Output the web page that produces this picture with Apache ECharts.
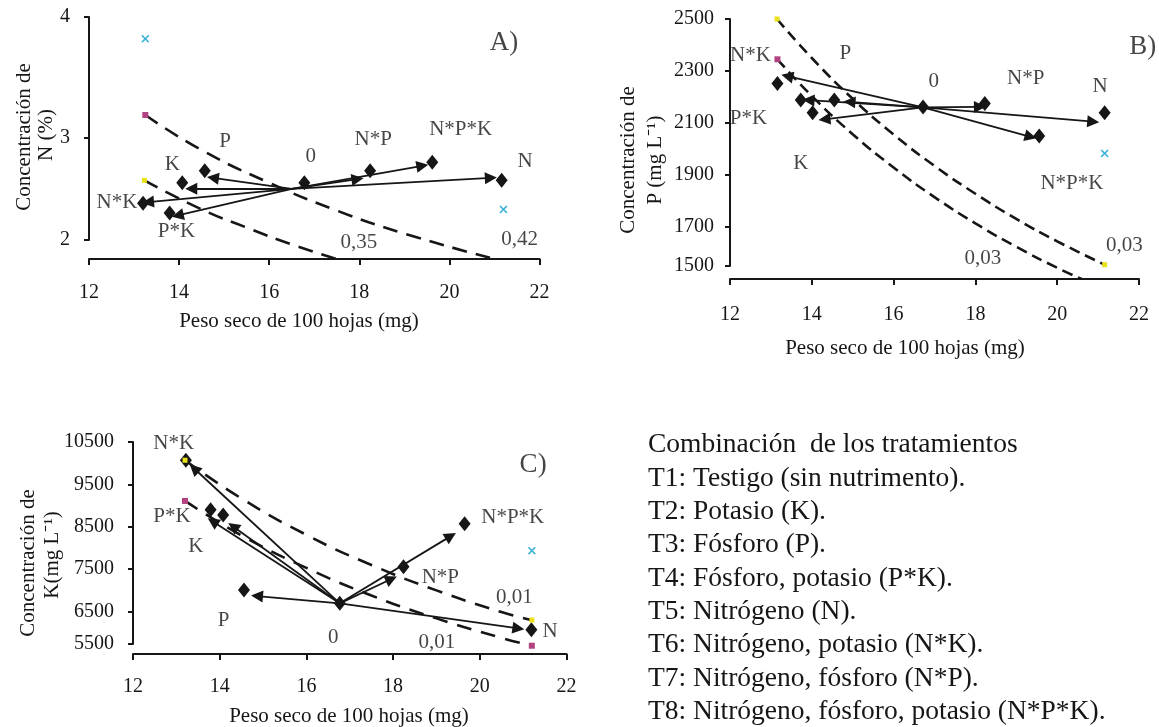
<!DOCTYPE html>
<html><head><meta charset="utf-8">
<script src="https://cdn.jsdelivr.net/npm/echarts@6/dist/echarts.min.js"></script>
<style>html,body{margin:0;padding:0;background:#fff}#c{width:1159px;height:727px}</style>
</head><body><div id="c"></div>
<script>
// ---------------- DATA ----------------
// treatment order used in every panel
const treatments = ['N*K', 'P*K', 'K', 'P', '0', 'N*P', 'N*P*K', 'N'];
const arrowTreatments = ['N*K', 'P*K', 'K', 'P', 'N*P', 'N*P*K', 'N'];
const xTicks = [12, 14, 16, 18, 20, 22];

// Panel A: N (%)
const yTicksA = [2, 3, 4];
const pesoA = [13.20, 13.79, 14.07, 14.57, 16.78, 18.24, 19.62, 21.16];
const concA = [2.46, 2.38, 2.63, 2.73, 2.63, 2.73, 2.80, 2.65];
const originA = [16.50, 2.58];
const tipXA = [13.31, 13.97, 14.27, 14.75, 17.96, 19.40, 20.92];
const tipYA = [2.47, 2.36, 2.58, 2.67, 2.66, 2.77, 2.67];
const iso1XA = [13.25, 14.5, 16.0, 17.5, 19.0, 21.0];
const iso1YA = [3.19, 2.90, 2.63, 2.40, 2.21, 2.00];
const iso2XA = [13.23, 14.5, 15.5, 16.5, 17.5];
const iso2YA = [2.65, 2.41, 2.26, 2.12, 2.00];
const magentaA = [[13.25, 3.19]];
const yellowA = [[13.23, 2.65]];
const cyanA = [[13.25, 3.82], [21.20, 2.41]];
const labelTextA = ['P', 'K', '0', 'N*P', 'N*P*K', 'N', 'N*K', 'P*K', '0,35', '0,42'];
const labelXA = [15.02, 13.85, 16.92, 18.31, 20.25, 21.68, 12.62, 13.94, 17.99, 21.56];
const labelYA = [2.97, 2.78, 2.85, 2.99, 3.07, 2.81, 2.47, 2.23, 2.14, 2.16];
const panelTagA = ['A)', 21.21, 3.79];

// Panel B: P (mg L-1)
const yTicksB = [1500, 1700, 1900, 2100, 2300, 2500];
const pesoB = [13.16, 13.73, 14.02, 14.55, 16.72, 18.23, 19.56, 21.16];
const concB = [2252, 2188, 2139, 2188, 2162, 2175, 2050, 2139];
const originB = [16.72, 2160];
const tipXB = [13.40, 13.92, 14.31, 14.92, 18.11, 19.35, 20.88];
const tipYB = [2280, 2188, 2114, 2181, 2162, 2047, 2105];
const iso1XB = [13.15, 14, 15, 16, 17, 18, 19, 20, 21.16];
const iso1YB = [2500, 2350, 2193, 2056, 1935, 1828, 1731, 1645, 1555];
const iso2XB = [13.16, 14, 15, 16, 17, 18, 19, 20, 20.6];
const iso2YB = [2345, 2204, 2057, 1929, 1815, 1714, 1624, 1543, 1500];
const magentaB = [[13.16, 2345]];
const yellowB = [[13.15, 2500], [21.16, 1555]];
const cyanB = [[21.16, 1983]];
const labelTextB = ['N*K', 'P', '0', 'N*P', 'N', 'P*K', 'K', 'N*P*K', '0,03', '0,03'];
const labelXB = [12.50, 14.82, 16.98, 19.23, 21.05, 12.45, 13.73, 20.36, 18.18, 21.64];
const labelYB = [2361, 2368, 2259, 2271, 2242, 2117, 1944, 1867, 1578, 1629];
const panelTagB = ['B)', 22.09, 2393];

// Panel C: K (mg L-1)
const yTicksC = [5500, 6500, 7500, 8500, 9500, 10500];
const pesoC = [13.22, 13.79, 14.08, 14.56, 16.77, 18.24, 19.65, 21.19];
const concC = [10070, 8900, 8781, 7008, 6695, 7555, 8570, 6070];
const originC = [16.77, 6695];
const tipXC = [13.41, 13.84, 14.31, 14.86, 17.96, 19.33, 20.89];
const tipYC = [9875, 8625, 8508, 6867, 7270, 8280, 6102];
const iso1XC = [13.2, 14.5, 16.0, 17.5, 19.0, 20.5, 21.2];
const iso1YC = [10070, 9170, 8310, 7600, 7000, 6490, 6300];
const iso2XC = [13.2, 14.5, 16.0, 17.5, 19.0, 20.5, 21.2];
const iso2YC = [9110, 8300, 7530, 6880, 6340, 5880, 5695];
const magentaC = [[13.2, 9110], [21.2, 5695]];
const yellowC = [[13.2, 10070], [21.2, 6300]];
const cyanC = [[21.2, 7937]];
const labelTextC = ['N*K', 'P*K', 'K', 'P', '0', 'N*P', 'N*P*K', '0,01', '0,01', 'N'];
const labelXC = [12.94, 12.90, 13.45, 14.09, 16.62, 19.09, 20.76, 20.80, 19.01, 21.62];
const labelYC = [10461, 8742, 8039, 6281, 5891, 7297, 8727, 6828, 5773, 6030];
const panelTagC = ['C)', 21.23, 9953];

const xTitle = 'Peso seco de 100 hojas (mg)';
const yTitleA = ['Concentración de', 'N (%)'];
const yTitleB = ['Concentración de', 'P (mg L⁻¹)'];
const yTitleC = ['Concentración de', 'K(mg L⁻¹)'];

const legendLines = [
  'Combinación  de los tratamientos',
  'T1: Testigo (sin nutrimento).',
  'T2: Potasio (K).',
  'T3: Fósforo (P).',
  'T4: Fósforo, potasio (P*K).',
  'T5: Nitrógeno (N).',
  'T6: Nitrógeno, potasio (N*K).',
  'T7: Nitrógeno, fósforo (N*P).',
  'T8: Nitrógeno, fósforo, potasio (N*P*K).'
];

// ---------------- LAYOUT / STYLE ----------------
const FONT = 'Liberation Serif';
const INK = '#161616';
const zip = (xs, ys) => xs.map((x, i) => [x, ys[i]]);

const panels = [
  { left: 89, right: 539.5, top: 17, tickBottom: 240, axisY: 259, xMargin: 24, yMargin: 19,
    yTicks: yTicksA, peso: pesoA, conc: concA, origin: originA, tipX: tipXA, tipY: tipYA,
    isos: [[iso1XA, iso1YA], [iso2XA, iso2YA]], dash: [15, 9],
    magenta: magentaA, yellow: yellowA, cyan: cyanA,
    lt: labelTextA, lx: labelXA, ly: labelYA, tag: panelTagA,
    yTitle: yTitleA, yTitlePos: [[24, 137], [46, 135]], xTitlePos: [299, 321] },
  { left: 730, right: 1139, top: 19, tickBottom: 266, axisY: 279, xMargin: 26, yMargin: 16,
    yTicks: yTicksB, peso: pesoB, conc: concB, origin: originB, tipX: tipXB, tipY: tipYB,
    isos: [[iso1XB, iso1YB], [iso2XB, iso2YB]], dash: [11, 6],
    magenta: magentaB, yellow: yellowB, cyan: cyanB,
    lt: labelTextB, lx: labelXB, ly: labelYB, tag: panelTagB,
    yTitle: yTitleB, yTitlePos: [[628, 160], [655, 160]], xTitlePos: [905, 348] },
  { left: 133, right: 566.5, top: 442, tickBottom: 644, axisY: 654, xMargin: 23, yMargin: 19,
    yTicks: yTicksC, peso: pesoC, conc: concC, origin: originC, tipX: tipXC, tipY: tipYC,
    isos: [[iso1XC, iso1YC], [iso2XC, iso2YC]], dash: [15, 10],
    magenta: magentaC, yellow: yellowC, cyan: cyanC,
    lt: labelTextC, lx: labelXC, ly: labelYC, tag: panelTagC,
    yTitle: yTitleC, yTitlePos: [[28, 563], [52, 555]], xTitlePos: [349, 716] }
];

const grids = [], xAxes = [], yAxes = [], series = [], graphics = [];
const crossPath = 'path://M0,1.4L1.4,0L5,3.6L8.6,0L10,1.4L6.4,5L10,8.6L8.6,10L5,6.4L1.4,10L0,8.6L3.6,5Z';

panels.forEach((P, i) => {
  grids.push({ left: P.left, top: P.top, width: P.right - P.left, height: P.tickBottom - P.top });
  const yMin = P.yTicks[0], yMax = P.yTicks[P.yTicks.length - 1];
  // the reference draws its lowest y tick a little above the x axis line
  const axisMin = yMin + (yMax - yMin) * (P.axisY - P.tickBottom) / (P.axisY - P.top);
  const customVals = [axisMin].concat(P.yTicks.slice(1));
  xAxes.push({
    gridIndex: i, type: 'value', min: xTicks[0], max: xTicks[xTicks.length - 1], interval: 2,
    offset: P.axisY - P.tickBottom,
    splitLine: { show: false },
    axisLine: { show: true, onZero: false, lineStyle: { color: INK, width: 2 } },
    axisTick: { show: true, inside: false, length: 6, lineStyle: { color: INK, width: 2 } },
    axisLabel: { fontFamily: FONT, fontSize: 20, color: INK, margin: P.xMargin }
  });
  yAxes.push({
    gridIndex: i, type: 'value', min: axisMin, max: yMax,
    splitLine: { show: false },
    axisLine: { show: true, onZero: false, lineStyle: { color: INK, width: 2 } },
    axisTick: { show: true, length: 5, customValues: customVals, lineStyle: { color: INK, width: 2 } },
    axisLabel: { fontFamily: FONT, fontSize: 20, color: INK, margin: P.yMargin, customValues: customVals,
      formatter: v => Math.abs(v - axisMin) < 1e-9 ? String(yMin) : String(v) }
  });
  const ax = { xAxisIndex: i, yAxisIndex: i };
  P.isos.forEach(([xs, ys]) => {
    series.push({ type: 'line', ...ax, data: zip(xs, ys), smooth: true, symbol: 'none', clip: false,
      lineStyle: { color: INK, width: 2.6, type: P.dash }, z: 2, silent: true });
  });
  series.push({
    type: 'lines', coordinateSystem: 'cartesian2d', ...ax,
    symbol: ['none', 'triangle'], symbolSize: [0, 12],
    lineStyle: { color: INK, width: 1.8, opacity: 1, curveness: 0 },
    data: P.tipX.map((x, k) => ({ name: arrowTreatments[k], coords: [P.origin, [x, P.tipY[k]]] })),
    z: 3, silent: true
  });
  series.push({ type: 'scatter', ...ax, symbol: 'diamond', symbolSize: [12, 15], clip: false,
    itemStyle: { color: INK, opacity: 1 }, data: P.peso.map((x, k) => ({ name: treatments[k], value: [x, P.conc[k]] })), z: 4 });
  series.push({ type: 'scatter', ...ax, symbol: 'rect', symbolSize: 6, clip: false,
    itemStyle: { color: '#b2427f', opacity: 1 }, data: P.magenta, z: 5 });
  series.push({ type: 'scatter', ...ax, symbol: 'rect', symbolSize: 5, clip: false,
    itemStyle: { color: '#e9e11a', opacity: 1 }, data: P.yellow, z: 5 });
  series.push({ type: 'scatter', ...ax, symbol: crossPath, symbolSize: 8, clip: false,
    itemStyle: { color: '#3db3d9', opacity: 1 }, data: P.cyan, z: 5 });
  series.push({ type: 'scatter', ...ax, symbolSize: 1, clip: false, itemStyle: { color: 'rgba(0,0,0,0)' },
    label: { show: true, position: 'inside', formatter: '{b}', fontFamily: FONT, fontSize: 21, color: INK },
    data: P.lt.map((t, k) => ({ name: t, value: [P.lx[k], P.ly[k]] })), z: 6, silent: true });
  series.push({ type: 'scatter', ...ax, symbolSize: 1, clip: false, itemStyle: { color: 'rgba(0,0,0,0)' },
    label: { show: true, position: 'inside', formatter: '{b}', fontFamily: FONT, fontSize: 27, color: INK },
    data: [{ name: P.tag[0], value: [P.tag[1], P.tag[2]] }], z: 6, silent: true });

  P.yTitle.forEach((t, k) => {
    graphics.push({ type: 'text', x: P.yTitlePos[k][0], y: P.yTitlePos[k][1], rotation: Math.PI / 2,
      style: { text: t, font: '21px "' + FONT + '"', fill: INK, textAlign: 'center', textVerticalAlign: 'middle' } });
  });
  graphics.push({ type: 'text', x: P.xTitlePos[0], y: P.xTitlePos[1],
    style: { text: xTitle, font: '21px "' + FONT + '"', fill: INK, textAlign: 'center', textVerticalAlign: 'middle' } });
});

legendLines.forEach((t, k) => {
  graphics.push({ type: 'text', x: 648, y: 445 + k * 33.35,
    style: { text: t, font: '27.5px "' + FONT + '"', fill: INK, textAlign: 'left', textVerticalAlign: 'middle' } });
});

const chart = echarts.init(document.getElementById('c'));
chart.setOption({
  animation: false,
  backgroundColor: '#ffffff',
  grid: grids, xAxis: xAxes, yAxis: yAxes, series: series, graphic: graphics
});
</script>
</body></html>
